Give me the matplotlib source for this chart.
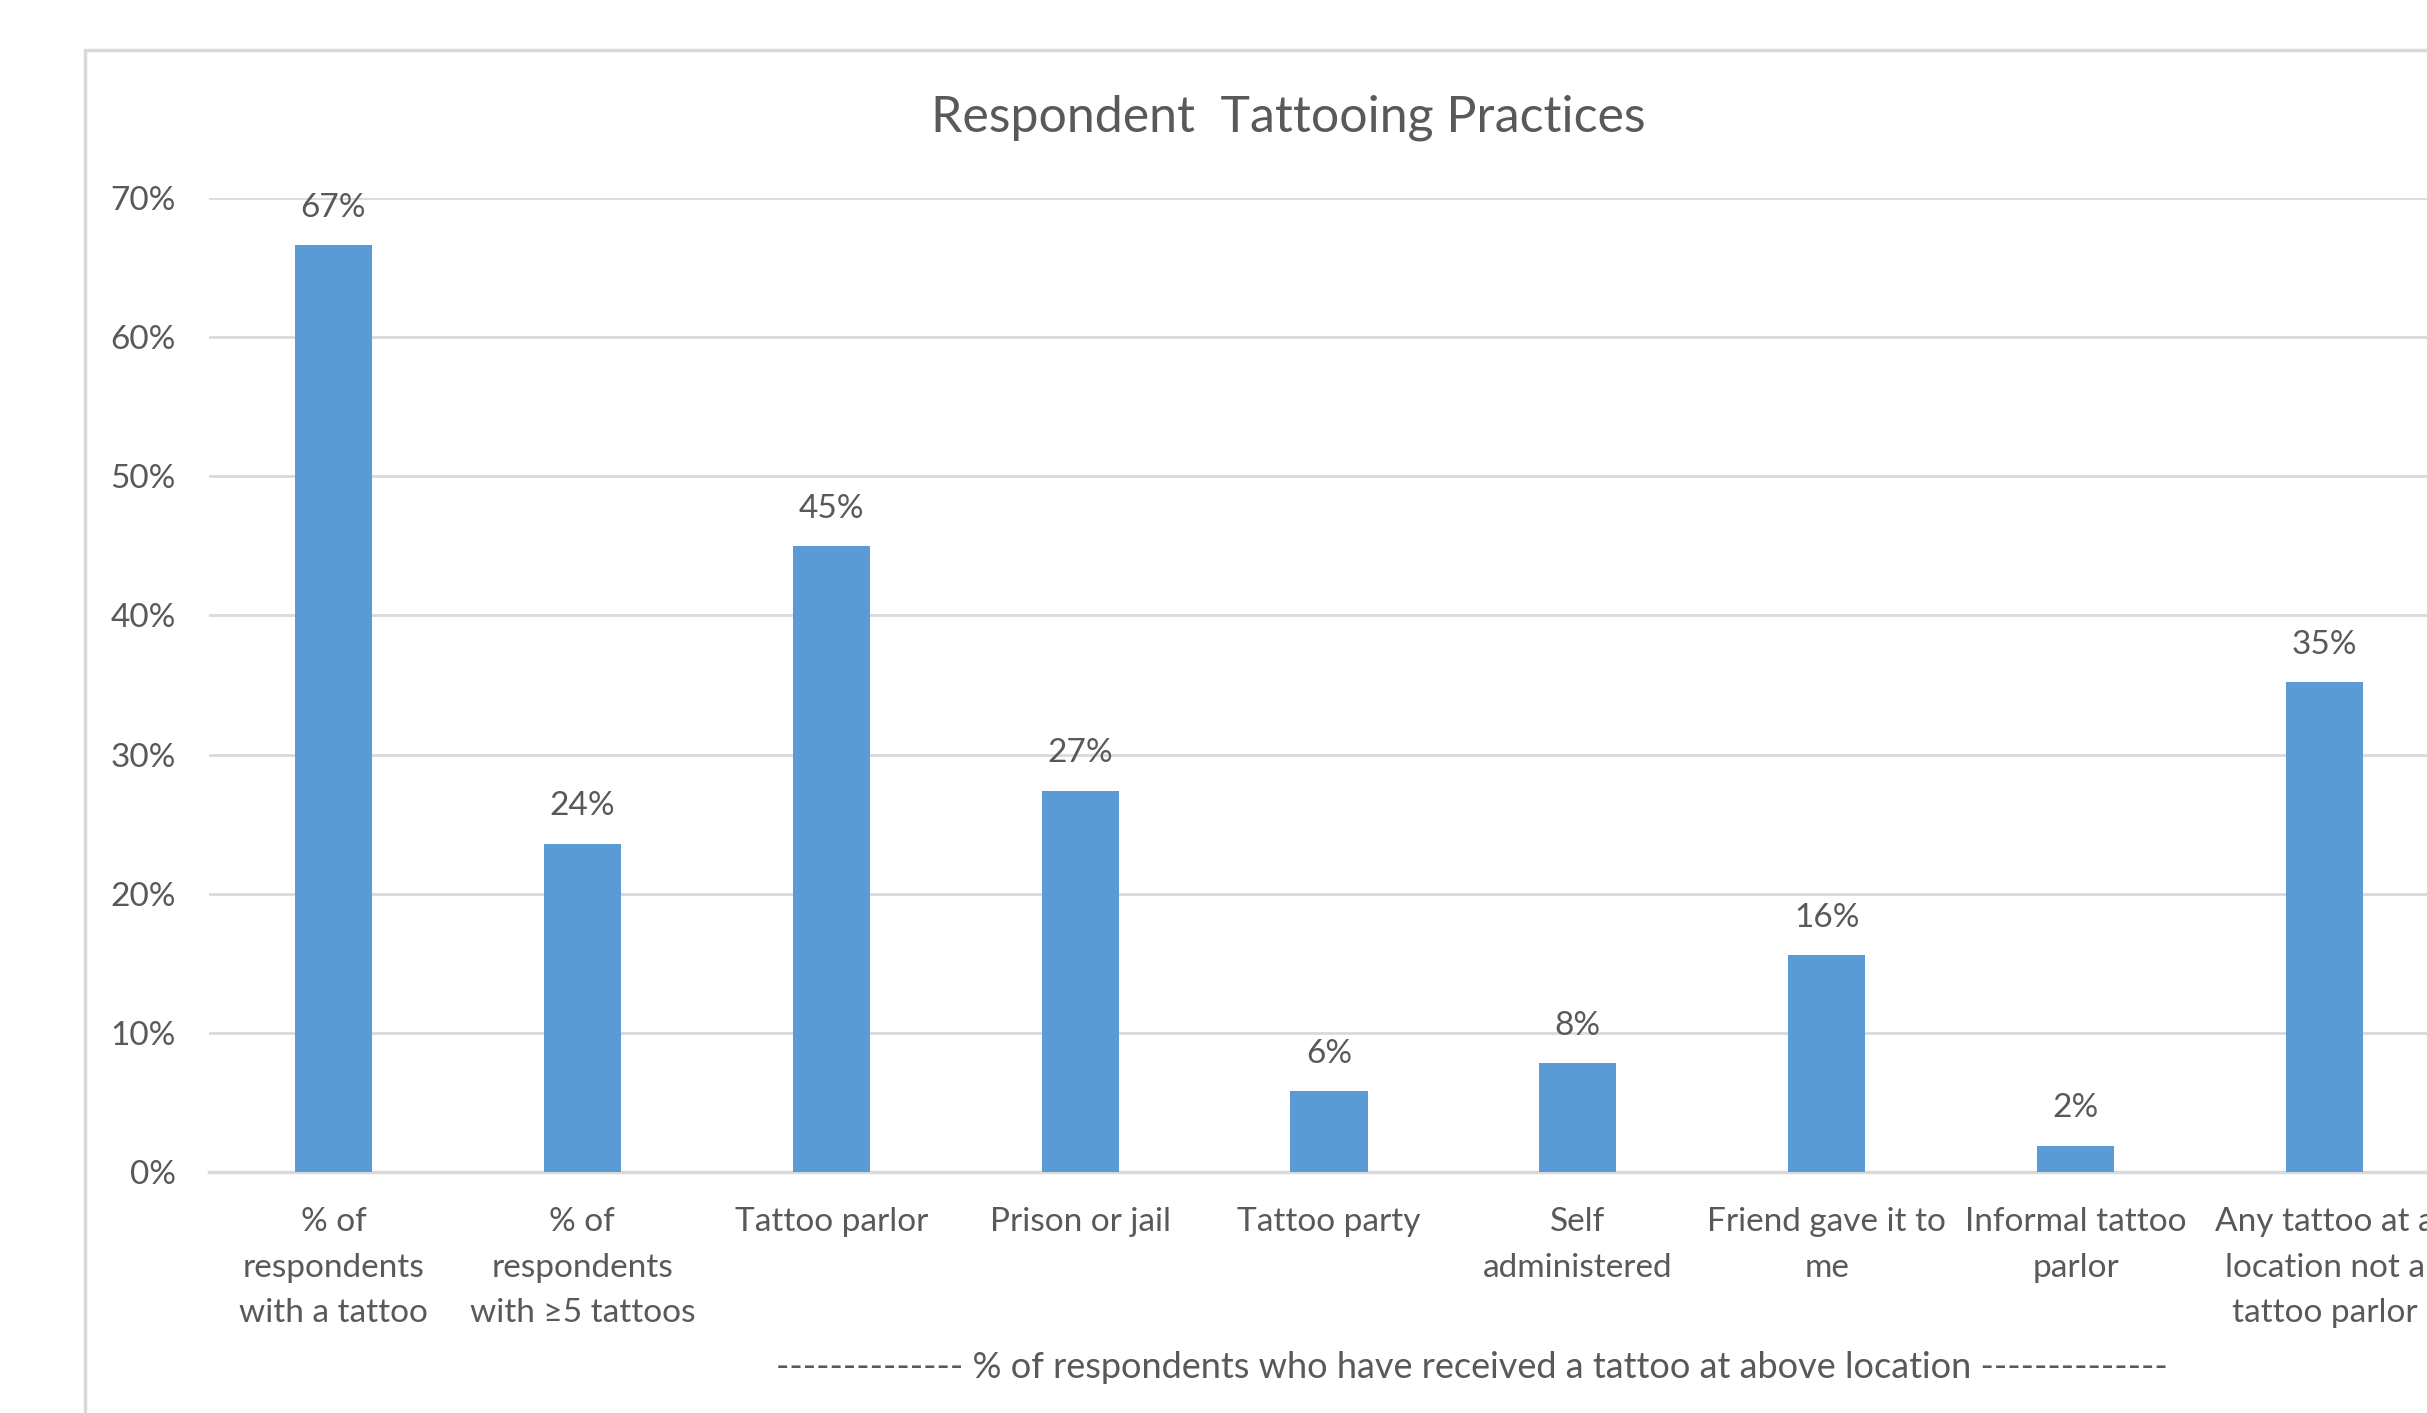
import matplotlib
matplotlib.use('Agg')
import matplotlib.pyplot as plt
from matplotlib.patches import Rectangle

plt.rcParams['font.family'] = ['Lato', 'DejaVu Sans']

categories = ['% of\nrespondents\nwith a tattoo', '% of\nrespondents\nwith \u22655 tattoos',
              'Tattoo parlor', 'Prison or jail', 'Tattoo party', 'Self\nadministered',
              'Friend gave it to\nme', 'Informal tattoo\nparlor',
              'Any tattoo at a\nlocation not a\ntattoo parlor']
values = [0.666, 0.236, 0.450, 0.274, 0.058, 0.078, 0.156, 0.019, 0.352]
yticks = [0, 0.1, 0.2, 0.3, 0.4, 0.5, 0.6, 0.7]

text_c = '#595959'
grid_c = '#D9D9D9'
bar_c = '#5B9BD5'
fontsize = 24

fig = plt.figure(figsize=(24.27, 14.13), dpi=100)

# chart border (runs off the right and bottom edges like the screenshot)
fig.patches.append(Rectangle((85/2427, -0.1), 1.0, 1 - 50/1413 + 0.1, transform=fig.transFigure,
                             fill=False, edgecolor=grid_c, linewidth=2.5, zorder=0))

ax = fig.add_axes([209/2427, 241/1413, 2240/2427, 974/1413])
x = list(range(len(categories)))
ax.bar(x, values, width=0.31, color=bar_c, zorder=3)
ax.set_xlim(-0.5, len(categories) - 0.5)
ax.set_ylim(0, 0.7)
ax.set_yticks(yticks)
ax.set_yticklabels(['%d%%' % round(v * 100) for v in yticks], fontsize=fontsize, color=text_c)
ax.set_xticks(x)
ax.set_xticklabels(categories, fontsize=fontsize, color=text_c, linespacing=1.66, va='top')
ax.tick_params(axis='both', length=0)
ax.tick_params(axis='y', pad=24)
ax.tick_params(axis='x', pad=25)
ax.grid(axis='y', color=grid_c, linewidth=2, zorder=0)
for s in ['top', 'right', 'left']:
    ax.spines[s].set_visible(False)
ax.spines['bottom'].set_color(grid_c)
ax.spines['bottom'].set_linewidth(2.5)

for xi, v in zip(x, values):
    ax.text(xi, v + 0.016, '{:.0%}'.format(v), ha='center', va='bottom',
            fontsize=fontsize, color=text_c)

fig.text(1288/2427, 1 - 118/1413, 'Respondent  Tattooing Practices', ha='center', va='center',
         fontsize=36, color=text_c)
fig.text(1472/2427, 1 - 1367/1413,
         '-------------- % of respondents who have received a tattoo at above location --------------',
         ha='center', va='center', fontsize=26, color=text_c)

fig.savefig('out.png', dpi=100)
